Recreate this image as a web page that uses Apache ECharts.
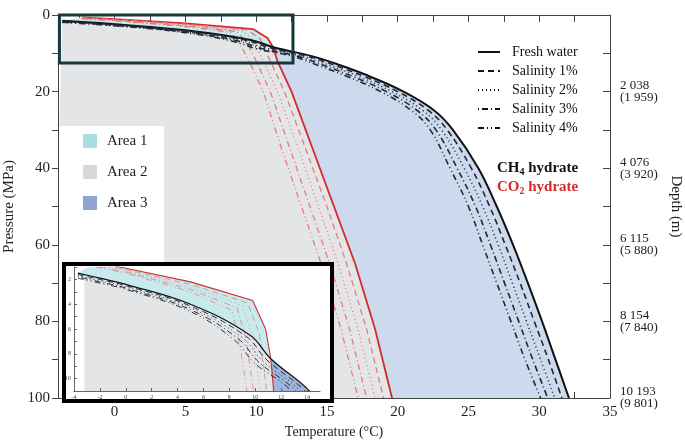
<!DOCTYPE html>
<html>
<head>
<meta charset="utf-8">
<script src="https://cdn.jsdelivr.net/npm/echarts@6/dist/echarts.min.js"></script>
<style>
  html, body { margin: 0; padding: 0; background: #fff; }
  #main { width: 685px; height: 441px; }
</style>
</head>
<body>
<div id="main"></div>
<script>
// CH4 hydrate equilibrium curves [T (°C), P (MPa)]
var ch4Fresh = [[-3.7,1.5],[-2,1.9],[0,2.4],[5,4],[9.6,6.5],[11.2,8.4],[14,10.8],[16,13.2],[18,16],[20.4,20],[22.6,25],[23.9,30],[25.7,40],[27,50],[28.15,60],[29.2,70],[30.2,80],[31.15,90],[32.1,100]];
var ch4Sal1 = [[-3.7,1.6],[-2,2.0],[0,2.5],[5,4.15],[9.3,6.6],[10.9,8.5],[13.65,10.8],[15.6,13.2],[17.6,16],[20,20],[22.2,25],[23.5,30],[25.2,40],[26.5,50],[27.6,60],[28.65,70],[29.65,80],[30.65,90],[31.6,100]];
var ch4Sal2 = [[-3.7,1.7],[-2,2.1],[0,2.6],[5,4.3],[9.0,6.7],[10.6,8.6],[13.3,10.8],[15.2,13.2],[17.2,16],[19.6,20],[21.8,25],[23.1,30],[24.7,40],[26,50],[27.1,60],[28.1,70],[29.1,80],[30.1,90],[31.1,100]];
var ch4Sal3 = [[-3.7,1.8],[-2,2.2],[0,2.7],[5,4.45],[8.7,6.8],[10.3,8.7],[12.95,10.8],[14.8,13.2],[16.8,16],[19.2,20],[21.4,25],[22.7,30],[24.2,40],[25.5,50],[26.55,60],[27.55,70],[28.55,80],[29.55,90],[30.6,100]];
var ch4Sal4 = [[-3.7,1.9],[-2,2.3],[0,2.8],[5,4.6],[8.4,6.9],[10,8.8],[12.6,10.8],[14.4,13.2],[16.4,16],[18.8,20],[21,25],[22.3,30],[23.7,40],[25,50],[26,60],[27,70],[28,80],[29,90],[30.1,100]];

// CO2 hydrate equilibrium curves
var co2Fresh = [[-2.3,0.6],[0,1.1],[5,2.2],[9.8,3.7],[10.8,6],[11.2,8.4],[11.5,12],[12.5,20],[14,35],[15.5,50],[17,65],[18.4,82],[19.6,100]];
var co2Sal1 = [[-2.3,0.7],[0,1.2],[5,2.4],[9.4,3.9],[10.3,6.3],[11,12],[12,20],[13.5,35],[15,50],[16.4,65],[17.8,82],[19,100]];
var co2Sal2 = [[-2.3,0.8],[0,1.3],[5,2.6],[9,4.1],[9.8,6.6],[10.5,12],[11.5,20],[13,35],[14.4,50],[15.8,65],[17.2,82],[18.4,100]];
var co2Sal3 = [[-2.3,0.9],[0,1.4],[5,2.8],[8.6,4.3],[9.3,6.9],[10,12],[11,20],[12.4,35],[13.8,50],[15.2,65],[16.6,82],[17.8,100]];
var co2Sal4 = [[-2.3,1],[0,1.5],[5,3],[8.2,4.5],[8.8,7.2],[9.5,12],[10.5,20],[11.8,35],[13.2,50],[14.6,65],[16,82],[17.2,100]];

// depth labels (m) for the right axis, keyed by pressure
var depthTicks = [20, 40, 60, 80, 100];
var depthCH4 = ['2 038', '4 076', '6 115', '8 154', '10 193'];
var depthCO2 = ['1 959', '3 920', '5 880', '7 840', '9 801'];

var xTicks = [0, 5, 10, 15, 20, 25, 30, 35];
var xMinorTicks = [-2.5, 0, 2.5, 5, 7.5, 10, 12.5, 15, 17.5, 20, 22.5, 25, 27.5, 30, 32.5, 35];

var salinityNames = ['Fresh water', 'Salinity 1%', 'Salinity 2%', 'Salinity 3%', 'Salinity 4%'];
var areaNames = ['Area 1', 'Area 2', 'Area 3'];

// zoom box on the main plot: [T0, P0, T1, P1]
var zoomBox = [-3.9, 0, 12.6, 12.5];

// areas built from the curves (cross point is index 5 in both arrays)
var k = 5;
var area1 = co2Fresh.slice(0, k + 1).concat(ch4Fresh.slice(0, k + 1).reverse());
var area3 = co2Fresh.slice(k).concat(ch4Fresh.slice(k).reverse());
var area2Main = ch4Fresh.slice(0, k + 1).concat(co2Fresh.slice(k + 1), [[3.5, 100], [3.5, 29], [-3.9, 29]]);
var area2Inset = ch4Fresh.slice(0, k + 1).concat(co2Fresh.slice(k + 1), [[-3.2, 100], [-3.2, 2.2]]);

var SERIF = 'Liberation Serif';
var styles = ['solid', [6, 4], [1, 3], [1, 3, 6, 3], [6, 3, 1, 3, 1, 3]];
var blackSets = [ch4Fresh, ch4Sal1, ch4Sal2, ch4Sal3, ch4Sal4];
var redSets = [co2Fresh, co2Sal1, co2Sal2, co2Sal3, co2Sal4];

function polySeries(data, color, xi, yi, z) {
  return {
    type: 'custom', xAxisIndex: xi, yAxisIndex: yi, z: z, clip: true, silent: true,
    data: [0],
    renderItem: function (params, api) {
      var pts = data.map(function (p) { return api.coord(p); });
      return { type: 'polygon', shape: { points: pts }, style: { fill: color } };
    }
  };
}

function curveSeries(xi, yi, z, scale) {
  var out = [];
  for (var i = 0; i < 5; i++) {
    out.push({
      type: 'line', name: salinityNames[i], xAxisIndex: xi, yAxisIndex: yi, z: z + 1,
      data: redSets[i], showSymbol: false, smooth: false, silent: true,
      lineStyle: { color: i === 0 ? '#d42a2a' : '#e57b7b', width: (i === 0 ? 1.8 : 1.3) * scale, type: styles[i] }
    });
    out.push({
      type: 'line', name: salinityNames[i], xAxisIndex: xi, yAxisIndex: yi, z: z + 2,
      data: blackSets[i], showSymbol: false, smooth: 0.4, silent: true,
      lineStyle: { color: i === 0 ? '#111' : '#1f2a36', width: (i === 0 ? 2 : 1.6) * scale, type: styles[i] }
    });
  }
  return out;
}

var chart = echarts.init(document.getElementById('main'));

var series = [
  polySeries(area2Main, '#e4e5e7', 0, 0, 1),
  polySeries(area1, '#c6eaee', 0, 0, 1),
  polySeries(area3, '#cdd9ec', 0, 0, 1)
].concat(curveSeries(0, 0, 2, 1));

series.push({
  type: 'custom', xAxisIndex: 0, yAxisIndex: 0, z: 6, clip: false, silent: true, data: [0],
  renderItem: function (params, api) {
    var a = api.coord([zoomBox[0], zoomBox[1]]);
    var b = api.coord([zoomBox[2], zoomBox[3]]);
    return { type: 'rect', shape: { x: a[0], y: a[1], width: b[0] - a[0], height: b[1] - a[1] },
      style: { fill: null, stroke: '#17383a', lineWidth: 3 } };
  }
});

// inset
series.push(polySeries(area2Inset, '#e4e5e7', 2, 2, 111));
series.push(polySeries(area1, '#c6eaee', 2, 2, 111));
series.push(polySeries(area3, '#9fb4da', 2, 2, 111));
series = series.concat(curveSeries(2, 2, 112, 0.6));

var legendGraphics = [];
for (var i = 0; i < 5; i++) {
  var y = 52 + i * 19;
  legendGraphics.push({ type: 'line', shape: { x1: 478, y1: y, x2: 500, y2: y },
    style: { stroke: '#111', lineWidth: 2, lineDash: i === 0 ? null : styles[i] } });
  legendGraphics.push({ type: 'text', x: 512, y: y, style: { text: salinityNames[i], font: '14px ' + SERIF, fill: '#111', verticalAlign: 'middle' } });
}
var areaColors = ['#a9dde3', '#d8d8da', '#8fa6d2'];
for (var j = 0; j < 3; j++) {
  var ay = 141 + j * 31;
  legendGraphics.push({ type: 'rect', shape: { x: 83, y: ay - 7, width: 14, height: 14 }, style: { fill: areaColors[j] } });
  legendGraphics.push({ type: 'text', x: 107, y: ay, style: { text: areaNames[j], font: '15px ' + SERIF, fill: '#222', verticalAlign: 'middle' } });
}
legendGraphics.push({ type: 'text', x: 497, y: 168, style: {
  rich: { b: { font: 'bold 15px ' + SERIF, fill: '#111' }, s: { font: 'bold 10px ' + SERIF, fill: '#111', padding: [8, 0, 0, 0] } },
  text: '{b|CH}{s|4}{b| hydrate}', verticalAlign: 'middle' } });
legendGraphics.push({ type: 'text', x: 497, y: 187, style: {
  rich: { b: { font: 'bold 15px ' + SERIF, fill: '#d42a2a' }, s: { font: 'bold 10px ' + SERIF, fill: '#d42a2a', padding: [8, 0, 0, 0] } },
  text: '{b|CO}{s|2}{b| hydrate}', verticalAlign: 'middle' } });
// inset frame
legendGraphics.push({ type: 'rect', z: 100, shape: { x: 64, y: 264, width: 268, height: 137 },
  style: { fill: '#fff', stroke: '#000', lineWidth: 4 } });

chart.setOption({
  animation: false,
  textStyle: { fontFamily: SERIF },
  grid: [
    { left: 58, right: 75, top: 15, bottom: 43, outerBoundsMode: 'none' },
    { left: 74, right: 365, top: 267, bottom: 50, z: 110, outerBoundsMode: 'none' }
  ],
  xAxis: [
    {
      type: 'value', gridIndex: 0, min: -4, max: 35, position: 'bottom',
      name: 'Temperature (°C)', nameLocation: 'middle', nameGap: 24,
      nameTextStyle: { fontSize: 14, color: '#222' },
      splitLine: { show: false },
      axisLine: { onZero: false, lineStyle: { color: '#444' } },
      axisTick: { inside: true, length: 6, customValues: xMinorTicks, lineStyle: { color: '#444' } },
      axisLabel: { customValues: xTicks, fontSize: 15, color: '#222', margin: 7 }
    },
    {
      type: 'value', gridIndex: 0, min: -4, max: 35, position: 'top',
      splitLine: { show: false },
      axisLine: { onZero: false, lineStyle: { color: '#444' } },
      axisTick: { inside: true, length: 7, customValues: xMinorTicks, lineStyle: { color: '#444' } },
      axisLabel: { show: false }
    },
    {
      type: 'value', gridIndex: 1, min: -4, max: 15, interval: 2, z: 120,
      splitLine: { show: false },
      axisLine: { onZero: false, lineStyle: { color: '#666' } },
      axisTick: { inside: true, length: 3 },
      axisLabel: { fontSize: 6, color: '#444', margin: 3, showMaxLabel: false }
    }
  ],
  yAxis: [
    {
      type: 'value', gridIndex: 0, min: 0, max: 100, interval: 10, inverse: true,
      name: 'Pressure (MPa)', nameLocation: 'middle', nameGap: 38,
      nameTextStyle: { fontSize: 15, color: '#222' },
      splitLine: { show: false },
      axisLine: { show: true, onZero: false, lineStyle: { color: '#444' } },
      axisTick: { length: 6, lineStyle: { color: '#444' } },
      axisLabel: { fontSize: 15, color: '#222', formatter: function (v) { return v % 20 === 0 ? v : ''; } }
    },
    {
      type: 'value', gridIndex: 0, min: 0, max: 100, interval: 10, inverse: true, position: 'right',
      name: 'Depth (m)', nameLocation: 'middle', nameGap: 58, nameRotate: -90,
      nameTextStyle: { fontSize: 15, color: '#222' },
      splitLine: { show: false },
      axisLine: { show: true, onZero: false, lineStyle: { color: '#444' } },
      axisTick: { inside: true, length: 7, lineStyle: { color: '#444' } },
      axisLabel: {
        fontSize: 13, color: '#222', lineHeight: 12, margin: 10,
        formatter: function (v) {
          var i = depthTicks.indexOf(v);
          return i < 0 ? '' : depthCH4[i] + '\n(' + depthCO2[i] + ')';
        }
      }
    },
    {
      type: 'value', gridIndex: 1, min: 1, max: 11, interval: 1, inverse: true, z: 120,
      splitLine: { show: false },
      axisLine: { show: true, onZero: false, lineStyle: { color: '#666' } },
      axisTick: { inside: true, length: 3 },
      axisLabel: { fontSize: 6, color: '#444', margin: 3, formatter: function (v) { return v % 2 === 0 && v < 11 ? v : ''; } }
    }
  ],
  graphic: legendGraphics,
  series: series
});
</script>
</body>
</html>
